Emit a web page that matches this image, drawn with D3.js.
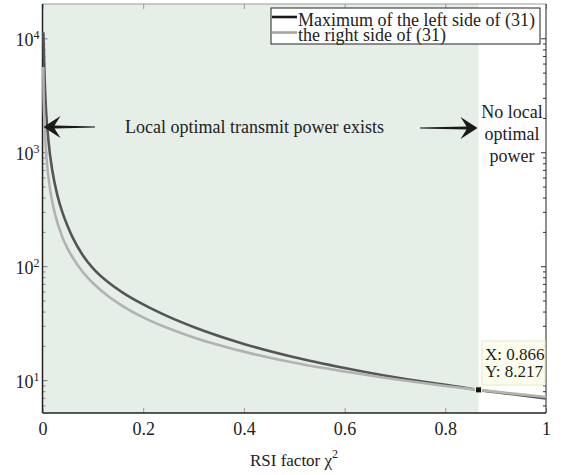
<!DOCTYPE html>
<html>
<head>
<meta charset="utf-8">
<script src="https://cdn.jsdelivr.net/npm/d3@7"></script>
<style>
  body { margin: 0; background: #fff; }
  svg text { font-family: "Liberation Serif", "Times New Roman", serif; fill: #222; }
</style>
</head>
<body>
<svg id="chart" width="562" height="475"></svg>
<script>
// values
const darkX = [0.0018, 0.002, 0.004, 0.007, 0.012, 0.02, 0.03, 0.04, 0.05, 0.06, 0.08, 0.1, 0.13, 0.16, 0.2, 0.25, 0.3, 0.4, 0.5, 0.6, 0.7, 0.8, 0.866, 0.93, 1.0];
const darkY = [11300, 10200, 4750, 2360, 1240, 670, 412, 292, 224, 178, 125, 96.4, 72.6, 58.4, 46.2, 36.1, 29.3, 20.8, 15.9, 12.8, 10.6, 9.1, 8.217, 7.55, 6.91];
const lightX = [0.0015, 0.002, 0.004, 0.008, 0.015, 0.025, 0.04, 0.06, 0.08, 0.1, 0.13, 0.16, 0.2, 0.25, 0.3, 0.4, 0.5, 0.6, 0.7, 0.8, 0.866, 0.93, 1.0];
const lightY = [5600, 3560, 1780, 890, 475, 285, 178, 119, 89, 71.2, 54.7, 44.5, 35.6, 28.5, 23.7, 17.8, 14.2, 11.9, 10.2, 8.9, 8.217, 7.65, 7.12];
const xTicks = [0, 0.2, 0.4, 0.6, 0.8, 1];
const yTicks = [10, 100, 1000, 10000];
const legendLabels = ['Maximum of the left side of (31)', 'the right side of (31)'];
const regionEnd = 0.866;
const tip = { x: 0.866, y: 8.217 };

const SERIF = '"Liberation Serif", "Times New Roman", serif';
const L = 42.5, R = 546, T = 4, B = 413;
const svg = d3.select('#chart');
const x = d3.scaleLinear().domain([0, 1]).range([L, R]);
const y = d3.scaleLog().domain([5.15, 20000]).range([B, T]);

// minor ticks for the log axis
const minors = [];
[1, 10, 100, 1000, 10000].forEach(d => {
    for (let k = 2; k <= 9; k++) {
        const v = d * k;
        if (v > 5.15 && v < 20000) minors.push(v);
    }
});

// shaded region where a local optimum exists
svg.append('rect')
    .attr('x', x(0)).attr('y', T)
    .attr('width', x(regionEnd) - x(0)).attr('height', B - T)
    .attr('fill', '#e5efe8');

// axes, ticks pointing inward
svg.append('g').attr('transform', `translate(0,${B})`)
    .call(d3.axisBottom(x).tickValues(xTicks).tickSizeInner(-5).tickSizeOuter(0).tickPadding(9).tickFormat(d3.format('')))
    .call(g => g.select('.domain').remove())
    .call(g => g.selectAll('line').attr('stroke', '#999'))
    .call(g => g.selectAll('text').attr('font-size', 18).style('font-family', SERIF).attr('fill', '#222'));

svg.append('g').attr('transform', `translate(0,${T})`)
    .call(d3.axisTop(x).tickValues(xTicks).tickSizeInner(-5).tickSizeOuter(0).tickFormat(''))
    .call(g => g.select('.domain').remove())
    .call(g => g.selectAll('line').attr('stroke', '#999'));

svg.append('g').attr('transform', `translate(${L},0)`)
    .call(d3.axisLeft(y).tickValues(yTicks).tickSizeInner(-5).tickSizeOuter(0).tickFormat(''))
    .call(g => g.select('.domain').remove())
    .call(g => g.selectAll('line').attr('stroke', '#777'));
svg.append('g').attr('transform', `translate(${L},0)`)
    .call(d3.axisLeft(y).tickValues(minors).tickSizeInner(-3).tickSizeOuter(0).tickFormat(''))
    .call(g => g.select('.domain').remove())
    .call(g => g.selectAll('line').attr('stroke', '#888'));

svg.append('g').attr('transform', `translate(${R},0)`)
    .call(d3.axisRight(y).tickValues(yTicks).tickSizeInner(-5).tickSizeOuter(0).tickFormat(''))
    .call(g => g.select('.domain').remove())
    .call(g => g.selectAll('line').attr('stroke', '#333'));
svg.append('g').attr('transform', `translate(${R},0)`)
    .call(d3.axisRight(y).tickValues(minors).tickSizeInner(-3).tickSizeOuter(0).tickFormat(''))
    .call(g => g.select('.domain').remove())
    .call(g => g.selectAll('line').attr('stroke', '#333'));

// 10^k labels
yTicks.forEach(v => {
    const t = svg.append('text')
        .attr('x', 39.5).attr('y', y(v) + 8)
        .attr('text-anchor', 'end')
        .attr('font-size', 18).style('font-family', SERIF);
    t.append('tspan').text('10');
    t.append('tspan').attr('dy', -7).attr('font-size', 12).text(Math.round(Math.log10(v)));
});

// frame
svg.append('line').attr('x1', L).attr('x2', R).attr('y1', T).attr('y2', T).attr('stroke', '#999');
svg.append('line').attr('x1', R).attr('x2', R).attr('y1', T).attr('y2', B).attr('stroke', '#222');
svg.append('line').attr('x1', L).attr('x2', L).attr('y1', T).attr('y2', B).attr('stroke', '#222').attr('stroke-width', 1.5);
svg.append('line').attr('x1', L).attr('x2', R).attr('y1', B).attr('y2', B).attr('stroke', '#222').attr('stroke-width', 1.5);

// curves
const line = d3.line().x(d => x(d[0])).y(d => y(d[1])).curve(d3.curveMonotoneX);
svg.append('path').datum(d3.zip(darkX, darkY))
    .attr('d', line).attr('fill', 'none').attr('stroke', '#555').attr('stroke-width', 2.6);
svg.append('path').datum(d3.zip(lightX, lightY))
    .attr('d', line).attr('fill', 'none').attr('stroke', '#b2b2b2').attr('stroke-width', 2.6);

// arrows
const ay = 127;
svg.append('path')
    .attr('d', `M${x(0) + 1},${ay} L${x(0) + 18},${ay - 11} L${x(0) + 12},${ay - 1.5} L95,${ay - 0.6} L95,${ay + 0.6} L${x(0) + 12},${ay + 1.5} L${x(0) + 18},${ay + 11} Z`)
    .attr('fill', '#1a1a1a');
const tipX = x(regionEnd) - 1;
svg.append('path')
    .attr('d', `M${tipX},${ay + 1} L${tipX - 17},${ay - 10} L${tipX - 11},${ay - 0.5} L420,${ay + 0.4} L420,${ay + 1.6} L${tipX - 11},${ay + 2.5} L${tipX - 17},${ay + 12} Z`)
    .attr('fill', '#1a1a1a');

svg.append('text').attr('x', 125).attr('y', 133).attr('font-size', 18).style('font-family', SERIF)
    .text('Local optimal transmit power exists');
const noLocal = svg.append('text').attr('text-anchor', 'middle').attr('font-size', 18).style('font-family', SERIF);
['No local', 'optimal', 'power'].forEach((s, i) => {
    noLocal.append('tspan').attr('x', 512).attr('y', 118 + i * 22).text(s);
});

// legend
const lg = svg.append('g');
lg.append('rect').attr('x', 271).attr('y', 8).attr('width', 269).attr('height', 36)
    .attr('fill', '#fff').attr('stroke', '#222');
const legendColors = ['#1a1a1a', '#a6a6a6'];
legendLabels.forEach((s, i) => {
    const yy = 17 + i * 15.5;
    lg.append('line').attr('x1', 272).attr('x2', 297).attr('y1', yy).attr('y2', yy)
        .attr('stroke', legendColors[i]).attr('stroke-width', 2.6);
    lg.append('text').attr('x', 298).attr('y', yy + 8.5).attr('font-size', 18).style('font-family', SERIF).text(s);
});

// data tip
svg.append('rect').attr('x', 482).attr('y', 341).attr('width', 63).attr('height', 44)
    .attr('fill', '#fdfdee').attr('stroke', '#e8e8c8');
svg.append('text').attr('x', 485).attr('y', 360).attr('font-size', 17).style('font-family', SERIF).text('X: ' + tip.x);
svg.append('text').attr('x', 485).attr('y', 377).attr('font-size', 17).style('font-family', SERIF).text('Y: ' + tip.y);
svg.append('rect').attr('x', x(tip.x) - 3).attr('y', y(tip.y) - 3).attr('width', 6).attr('height', 6)
    .attr('fill', '#111').attr('stroke', '#f3f0c0').attr('stroke-width', 1);

// axis title
const xt = svg.append('text').attr('x', 294).attr('y', 466).attr('text-anchor', 'middle')
    .attr('font-size', 17).style('font-family', SERIF);
xt.append('tspan').text('RSI factor χ');
xt.append('tspan').attr('dy', -8).attr('font-size', 12).text('2');
</script>
</body>
</html>
